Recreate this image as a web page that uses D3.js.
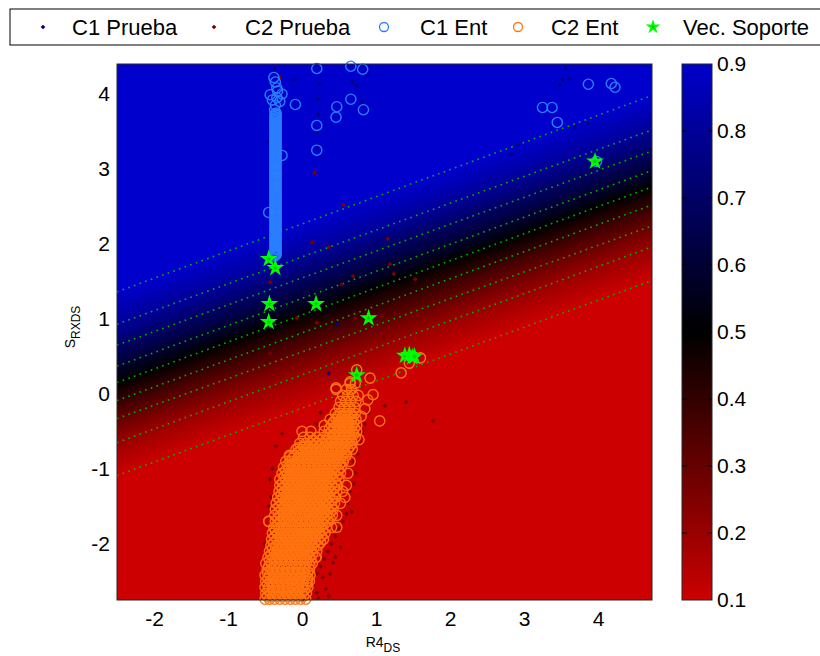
<!DOCTYPE html>
<html lang="en">
<head>
<meta charset="UTF-8">
<title>SVM</title>
<script src="https://cdn.jsdelivr.net/npm/d3@7/dist/d3.min.js"></script>
<style>
  body { margin: 0; background: #fff; }
  text { font-family: "Liberation Sans", Arial, sans-serif; }
</style>
</head>
<body>
<script>
// ---- data ----
const xTicks = [-2, -1, 0, 1, 2, 3, 4];
const yTicks = [-2, -1, 0, 1, 2, 3, 4];
const cTicks = [0.1, 0.2, 0.3, 0.4, 0.5, 0.6, 0.7, 0.8, 0.9];
const legendLabels = ["C1 Prueba", "C2 Prueba", "C1 Ent", "C2 Ent", "Vec. Soporte"];

// contour levels, and the y of each dotted line at the left (x=-2.5) and right (x=4.73) edge
const levels = [0.9, 0.8, 0.7, 0.6, 0.5, 0.4, 0.3, 0.2, 0.1];
const levelYLeft = [1.36, 0.93, 0.65, 0.37, 0.15, -0.09, -0.33, -0.65, -1.09];
const levelYRight = [3.98, 3.52, 3.24, 2.98, 2.76, 2.52, 2.24, 1.96, 1.51];

const c1Prueba = [[-0.37,4.33],[-0.11,4.19],[0.23,4.13],[0.22,3.93],[0.22,3.73],[0.21,3.49],[0.68,4.17],
  [0.74,4.12],[0.81,3.9],[0.88,4.28],[-0.44,3.36],[0.47,0.93],[0.36,0.27],[3.56,4.34],[3.52,4.19],
  [3.61,4.2],[3.48,4.12],[2.91,3.32],[2.83,3.2],[3.87,3.61],[3.69,3.56],[-0.36,3.6],[-0.34,3.0],
  [-0.38,2.6],[-0.35,2.2],[-0.33,3.75],[0.21,3.3]];

const c2Prueba = [[-0.3,4.22],[0.17,2.95],[0.56,2.52],[0.14,2.02],[0.36,1.96],[1.16,2.07],[1.19,1.73],
  [1.24,1.6],[0.69,1.57],[0.54,1.46],[-0.43,1.49],[-0.07,1.01],[0.2,0.95],[0.72,1.01],[1.08,1.04],
  [1.29,0.91],[-0.43,0.54],[0.98,0.77],[1.11,0.75],[1.53,1.53],[1.58,1.08],[0.59,0.68],[1.41,-0.11],
  [1.77,-0.36],[1.12,-0.16],[-0.27,-0.53],[-0.43,-1.14],[-0.42,-1.37],[0.67,-1.57],[0.45,-2.18],
  [0.1,-2.7],[0.05,-2.6],[0.12,-2.5],[0.2,-2.4],[0.25,-2.3],[0.3,-2.2],[0.35,-2.1],[0.4,-2.0],
  [0.2,-2.65],[0.15,-2.55],[0.28,-2.45],[0.45,-1.9],[0.5,-1.8],[0.55,-1.7],[0.6,-1.6],[0.62,-1.45],
  [0.65,-1.3],[0.7,-1.2],[0.72,-1.05],[0.7,-0.9],[0.75,-0.8],[0.8,-0.65],[0.82,-0.5],[0.85,-0.4],
  [0.9,-0.25],[0.95,-0.1],[0.75,0.1],[0.6,0.2],[0.5,0.0],[0.35,-0.3],[0.2,-0.4],[-0.35,-0.7],
  [-0.4,-1.0],[-0.45,-1.5],[-0.5,-2.0],[0.0,-2.75],[0.32,-2.6],[0.38,-2.4],[0.42,-2.25],[0.52,-2.05],
  [0.25,-0.25],[0.3,-0.45],[0.22,-2.72],[0.36,-2.7]];

const c1Ent = [[0.2,4.34],[0.66,4.37],[0.82,4.33],[-0.09,3.86],[0.2,3.58],[0.2,3.25],[0.47,3.83],
  [0.46,3.69],[0.66,3.93],[0.83,3.79],[-0.27,3.18],[-0.45,2.42],[3.87,4.13],[4.18,4.14],[4.23,4.09],
  [3.25,3.82],[3.38,3.82],[3.45,3.62],[3.98,3.1],[-0.43,3.99],[-0.27,4.0],[-0.36,4.16],[-0.34,4.08],
  [-0.36,3.85],[-0.3,3.9],[-0.4,3.92],[-0.38,4.22],[-0.33,4.04],[-0.37,3.79],[-0.34,3.95]];

// the dense vertical stack of C1 training points: [x, [y, ...]]
const c1EntColumns = [
  [-0.365, [1.84,1.87,1.90,1.93,1.96,1.99,2.02,2.05,2.08,2.11,2.14,2.17,2.20,2.23,2.26,2.29,2.32,
    2.35,2.38,2.41,2.44,2.47,2.50,2.53,2.56,2.59,2.62,2.65,2.68,2.71,2.74,2.77,2.80,2.83,2.86,2.89,
    2.92,2.95,2.98,3.01,3.04,3.07,3.10,3.13,3.16,3.19,3.22,3.25,3.28,3.31,3.34,3.37,3.40,3.43,3.46,
    3.49,3.52,3.55,3.58,3.61,3.64,3.67,3.70,3.73]],
  [-0.35, [1.86,1.885,1.92,1.945,1.975,2.0,2.035,2.065,2.095,2.12,2.155,2.185,2.21,2.245,2.275,2.30,
    2.335,2.365,2.39,2.425,2.455,2.48,2.515,2.545,2.575,2.60,2.635,2.665,2.69,2.725,2.755,2.785,2.81,
    2.845,2.875,2.90,2.935,2.965,2.995,3.02,3.055,3.085,3.11,3.145,3.175,3.205,3.23,3.265,3.295,3.32,
    3.355,3.385,3.415,3.44,3.475,3.505,3.53,3.565,3.595,3.625,3.65,3.685,3.715,3.745]]
];

// orange training cloud, row by row: [y, [x, ...]]
const c2EntRows = [
  [-2.74, [-0.50,-0.44,-0.37,-0.30,-0.23,-0.16,-0.09,-0.02,0.05]],
  [-2.70, [-0.47,-0.40,-0.33,-0.26,-0.19,-0.12,-0.05,0.02]],
  [-2.66, [-0.49,-0.42,-0.35,-0.28,-0.21,-0.14,-0.07,0.0,0.06]],
  [-2.62, [-0.46,-0.39,-0.32,-0.25,-0.18,-0.11,-0.04,0.03]],
  [-2.58, [-0.50,-0.45,-0.39,-0.32,-0.25,-0.19,-0.12,-0.05,0.02,0.08]],
  [-2.54, [-0.47,-0.41,-0.34,-0.27,-0.20,-0.13,-0.06,0.01,0.07]],
  [-2.50, [-0.49,-0.42,-0.35,-0.28,-0.21,-0.14,-0.07,0.0,0.07,0.1]],
  [-2.46, [-0.46,-0.39,-0.32,-0.25,-0.18,-0.11,-0.04,0.03,0.08]],
  [-2.42, [-0.50,-0.44,-0.37,-0.30,-0.23,-0.16,-0.09,-0.02,0.05,0.11]],
  [-2.38, [-0.47,-0.40,-0.33,-0.26,-0.19,-0.12,-0.05,0.02,0.08]],
  [-2.34, [-0.47,-0.41,-0.33,-0.26,-0.19,-0.12,-0.05,0.03,0.1]],
  [-2.30, [-0.45,-0.38,-0.31,-0.24,-0.17,-0.10,-0.03,0.04,0.11]],
  [-2.26, [-0.49,-0.42,-0.36,-0.29,-0.22,-0.15,-0.08,-0.01,0.06,0.14]],
  [-2.22, [-0.44,-0.37,-0.30,-0.23,-0.16,-0.09,-0.02,0.05,0.12]],
  [-2.18, [-0.46,-0.39,-0.32,-0.25,-0.18,-0.11,-0.04,0.03,0.10,0.19]],
  [-2.14, [-0.42,-0.35,-0.28,-0.21,-0.14,-0.07,0.0,0.07,0.14]],
  [-2.10, [-0.44,-0.37,-0.30,-0.23,-0.16,-0.09,-0.02,0.05,0.12,0.2]],
  [-2.06, [-0.40,-0.33,-0.26,-0.19,-0.12,-0.05,0.02,0.09,0.16]],
  [-2.02, [-0.42,-0.35,-0.28,-0.21,-0.14,-0.07,0.0,0.07,0.14,0.22]],
  [-1.98, [-0.38,-0.31,-0.24,-0.17,-0.10,-0.03,0.04,0.11,0.18,0.25]],
  [-1.94, [-0.41,-0.34,-0.27,-0.20,-0.13,-0.06,0.01,0.08,0.15,0.22,0.29]],
  [-1.90, [-0.37,-0.30,-0.23,-0.16,-0.09,-0.02,0.05,0.12,0.19,0.26]],
  [-1.86, [-0.40,-0.33,-0.26,-0.19,-0.12,-0.05,0.02,0.09,0.16,0.23,0.31]],
  [-1.82, [-0.36,-0.29,-0.22,-0.15,-0.08,-0.01,0.06,0.13,0.20,0.28]],
  [-1.78, [-0.38,-0.31,-0.24,-0.17,-0.10,-0.03,0.04,0.11,0.18,0.25,0.33,0.40]],
  [-1.74, [-0.33,-0.26,-0.19,-0.12,-0.05,0.02,0.09,0.16,0.23,0.30]],
  [-1.70, [-0.45,-0.36,-0.29,-0.22,-0.15,-0.08,-0.01,0.06,0.13,0.20,0.27,0.35]],
  [-1.66, [-0.33,-0.26,-0.19,-0.12,-0.05,0.02,0.09,0.16,0.23,0.30,0.38]],
  [-1.62, [-0.37,-0.30,-0.23,-0.16,-0.09,-0.02,0.05,0.12,0.19,0.26,0.33,0.41,0.47]],
  [-1.58, [-0.32,-0.25,-0.18,-0.11,-0.04,0.03,0.10,0.17,0.24,0.31,0.38]],
  [-1.54, [-0.36,-0.28,-0.21,-0.14,-0.07,0.0,0.07,0.14,0.21,0.28,0.35,0.42]],
  [-1.50, [-0.31,-0.24,-0.17,-0.10,-0.03,0.04,0.11,0.18,0.25,0.32,0.40]],
  [-1.46, [-0.35,-0.27,-0.20,-0.13,-0.06,0.01,0.08,0.15,0.22,0.29,0.36,0.44,0.52]],
  [-1.42, [-0.30,-0.23,-0.16,-0.09,-0.02,0.05,0.12,0.19,0.26,0.33,0.41]],
  [-1.38, [-0.33,-0.26,-0.19,-0.12,-0.05,0.02,0.09,0.16,0.23,0.30,0.37,0.45,0.58]],
  [-1.34, [-0.28,-0.21,-0.14,-0.07,0.0,0.07,0.14,0.21,0.28,0.35,0.43]],
  [-1.30, [-0.31,-0.24,-0.17,-0.10,-0.03,0.04,0.11,0.18,0.25,0.32,0.39,0.47,0.55]],
  [-1.26, [-0.27,-0.20,-0.13,-0.06,0.01,0.08,0.15,0.22,0.29,0.36,0.44]],
  [-1.22, [-0.30,-0.23,-0.16,-0.09,-0.02,0.05,0.12,0.19,0.26,0.33,0.40,0.48,0.6]],
  [-1.18, [-0.26,-0.19,-0.12,-0.05,0.02,0.09,0.16,0.23,0.30,0.37,0.45]],
  [-1.14, [-0.30,-0.22,-0.15,-0.08,-0.01,0.06,0.13,0.20,0.27,0.34,0.41,0.50]],
  [-1.10, [-0.24,-0.17,-0.10,-0.03,0.04,0.11,0.18,0.25,0.32,0.39,0.47]],
  [-1.06, [-0.27,-0.20,-0.13,-0.06,0.01,0.08,0.15,0.22,0.29,0.36,0.43,0.52,0.62]],
  [-1.02, [-0.22,-0.15,-0.08,-0.01,0.06,0.13,0.20,0.27,0.34,0.41,0.49]],
  [-0.98, [-0.25,-0.18,-0.11,-0.04,0.03,0.10,0.17,0.24,0.31,0.38,0.45,0.53]],
  [-0.94, [-0.19,-0.12,-0.05,0.02,0.09,0.16,0.23,0.30,0.37,0.44,0.51]],
  [-0.90, [-0.22,-0.15,-0.08,-0.01,0.06,0.13,0.20,0.27,0.34,0.41,0.48,0.56,0.65]],
  [-0.86, [-0.13,-0.06,0.01,0.08,0.15,0.22,0.29,0.36,0.43,0.50,0.57]],
  [-0.82, [-0.17,-0.10,-0.03,0.04,0.11,0.18,0.25,0.32,0.39,0.46,0.53,0.60]],
  [-0.78, [-0.05,0.02,0.09,0.16,0.23,0.30,0.37,0.44,0.51,0.58]],
  [-0.74, [-0.08,-0.01,0.06,0.13,0.20,0.27,0.34,0.41,0.48,0.55,0.62,0.68]],
  [-0.70, [0.02,0.09,0.16,0.23,0.30,0.37,0.44,0.51,0.58,0.65]],
  [-0.66, [-0.03,0.05,0.12,0.19,0.26,0.33,0.40,0.47,0.54,0.61,0.68]],
  [-0.62, [0.15,0.24,0.32,0.39,0.46,0.53,0.60,0.67]],
  [-0.58, [0.02,0.11,0.20,0.29,0.36,0.43,0.50,0.57,0.64,0.72]],
  [-0.54, [0.35,0.43,0.50,0.57,0.64,0.70]],
  [-0.50, [0.0,0.12,0.30,0.40,0.47,0.54,0.61,0.68,0.74]],
  [-0.46, [0.37,0.44,0.51,0.58,0.65,0.71]],
  [-0.42, [0.30,0.40,0.47,0.54,0.61,0.68,0.74]],
  [-0.38, [0.42,0.49,0.56,0.63,0.70]],
  [-0.34, [0.38,0.46,0.53,0.60,0.67,0.73]],
  [-0.30, [0.48,0.55,0.62,0.69]],
  [-0.26, [0.45,0.52,0.59,0.66,0.72]],
  [-0.18, [0.50,0.57,0.64,0.71]],
  [-0.10, [0.52,0.59,0.66,0.73]],
  [-0.02, [0.55,0.62,0.69,0.76]],
  [0.06, [0.46,0.60,0.67]],
  [0.14, [0.65,0.72]]
];
const c2EntExtra = [[0.74,0.32],[0.92,0.21],[0.96,-0.01],[0.89,-0.08],[1.05,-0.36],[1.34,0.28],
  [1.45,0.41],[1.6,0.48],[0.77,-0.61],[-0.45,-1.7],[0.47,-1.78],[0.19,-2.18],[-0.05,-0.72],
  [-0.17,-0.84],[0.8,-0.3],[0.85,-0.2],[0.65,0.16],[0.46,0.08]];

const supportVectors = [[-0.45,1.8],[-0.36,1.68],[-0.44,1.2],[0.19,1.2],[-0.45,0.96],[0.9,1.01],
  [0.74,0.25],[1.39,0.51],[1.49,0.49],[1.45,0.52],[1.52,0.5],[3.96,3.1]];

// ---- layout ----
const W = 820, H = 656;
const x = d3.scaleLinear().domain([-2.5, 4.73]).range([117, 652]);
const y = d3.scaleLinear().domain([-2.75, 4.4]).range([600, 64]);
const color = d3.scaleLinear().domain([0.1, 0.5, 0.9]).range(["#cc0000", "#000000", "#0000cc"]).clamp(true);

const svg = d3.select("body").append("svg").attr("width", W).attr("height", H);
const defs = svg.append("defs");

defs.append("clipPath").attr("id", "plotclip")
  .append("rect").attr("x", x(-2.5)).attr("y", y(4.4))
  .attr("width", x(4.73) - x(-2.5)).attr("height", y(-2.75) - y(4.4));

// background: gradient across the contour lines
const lines = levels.map((l, i) => ({
  level: l,
  p0: [x(-2.5), y(levelYLeft[i])],
  p1: [x(4.73), y(levelYRight[i])]
}));
const mid = lines[4];
let dx = mid.p1[0] - mid.p0[0], dy = mid.p1[1] - mid.p0[1];
const len = Math.hypot(dx, dy);
dx /= len; dy /= len;
const n = [dy, -dx]; // normal pointing up-left (towards higher levels)
const centre = l => [(l.p0[0] + l.p1[0]) / 2, (l.p0[1] + l.p1[1]) / 2];
const S = centre(lines[lines.length - 1]);
const proj = l => { const c = centre(l); return (c[0] - S[0]) * n[0] + (c[1] - S[1]) * n[1]; };
const tMax = proj(lines[0]);
const grad = defs.append("linearGradient").attr("id", "bg")
  .attr("gradientUnits", "userSpaceOnUse")
  .attr("x1", S[0]).attr("y1", S[1])
  .attr("x2", S[0] + n[0] * tMax).attr("y2", S[1] + n[1] * tMax);
lines.slice().reverse().forEach(l => {
  grad.append("stop").attr("offset", proj(l) / tMax).attr("stop-color", color(l.level));
});

svg.append("rect")
  .attr("x", x(-2.5)).attr("y", y(4.4))
  .attr("width", x(4.73) - x(-2.5)).attr("height", y(-2.75) - y(4.4))
  .attr("fill", "url(#bg)");

// dotted contour lines
const lineGen = d3.line();
svg.append("g").attr("clip-path", "url(#plotclip)")
  .selectAll("path").data(lines).enter().append("path")
  .attr("d", d => lineGen([d.p0, d.p1]))
  .attr("fill", "none")
  .attr("stroke", "#00b400")
  .attr("stroke-width", 1.6)
  .attr("stroke-dasharray", "1.6,4.4");

// scatter
const dot = d3.symbol().type(d3.symbolDiamond2).size(14);
const star = d3.symbol().type(d3.symbolStar).size(42);

const drawDots = (data, fill) => svg.append("g").selectAll("path").data(data).enter().append("path")
  .attr("d", dot).attr("transform", d => `translate(${x(d[0])},${y(d[1])})`).attr("fill", fill);

const drawRings = (data, stroke) => svg.append("g").selectAll("circle").data(data).enter().append("circle")
  .attr("cx", d => x(d[0])).attr("cy", d => y(d[1])).attr("r", 5.1)
  .attr("fill", "none").attr("stroke", stroke).attr("stroke-width", 1.4);

drawDots(c1Prueba, "#00007a");
drawDots(c2Prueba, "#7a0000");
const c1All = c1EntColumns.flatMap(c => c[1].map(v => [c[0], v])).concat(c1Ent);
drawRings(c1All, "#2a7fff");
const c2Ent = c2EntRows.flatMap(r => r[1].map(v => [v, r[0]])).concat(c2EntExtra);
drawRings(c2Ent, "#ff7410");

svg.append("g").selectAll("path").data(supportVectors).enter().append("path")
  .attr("d", star).attr("transform", d => `translate(${x(d[0])},${y(d[1])})`)
  .attr("fill", "#00c800").attr("stroke", "#00ff00").attr("stroke-width", 2);

// frame
svg.append("rect")
  .attr("x", x(-2.5)).attr("y", y(4.4))
  .attr("width", x(4.73) - x(-2.5)).attr("height", y(-2.75) - y(4.4))
  .attr("fill", "none").attr("stroke", "#262626").attr("stroke-width", 1);

// axes
const xAxis = svg.append("g").attr("transform", `translate(0,${y(-2.75)})`)
  .call(d3.axisBottom(x).tickValues(xTicks).tickSize(0).tickPadding(11).tickFormat(d => String(d)));
const yAxis = svg.append("g").attr("transform", `translate(${x(-2.5)},0)`)
  .call(d3.axisLeft(y).tickValues(yTicks).tickSize(0).tickPadding(7).tickFormat(d => String(d)));
[xAxis, yAxis].forEach(g => {
  g.select(".domain").remove();
  g.selectAll("text").attr("font-size", 21).attr("fill", "#000")
    .attr("font-family", "'Liberation Sans', Arial, sans-serif");
});

// axis labels
const xl = svg.append("text").attr("x", 383).attr("y", 647).attr("text-anchor", "middle").attr("font-size", 14);
xl.append("tspan").text("R4");
xl.append("tspan").attr("font-size", 12).attr("dy", 5).text("DS");

const yl = svg.append("text").attr("transform", "translate(75,327) rotate(-90)")
  .attr("text-anchor", "middle").attr("font-size", 14);
yl.append("tspan").text("S");
yl.append("tspan").attr("font-size", 12).attr("dy", 5).text("RXDS");

// colorbar
const cb = { x0: 682, x1: 712 };
const cy = d3.scaleLinear().domain([0.1, 0.9]).range([600, 64]);
const cgrad = defs.append("linearGradient").attr("id", "cbar")
  .attr("x1", 0).attr("y1", 1).attr("x2", 0).attr("y2", 0);
cTicks.forEach(v => cgrad.append("stop").attr("offset", (v - 0.1) / 0.8).attr("stop-color", color(v)));
svg.append("rect").attr("x", cb.x0).attr("y", cy(0.9))
  .attr("width", cb.x1 - cb.x0).attr("height", cy(0.1) - cy(0.9))
  .attr("fill", "url(#cbar)").attr("stroke", "#262626").attr("stroke-width", 1);
const inner = cTicks.slice(1, -1);
svg.append("g").selectAll("line").data(inner.flatMap(v => [[cb.x0, v, 1], [cb.x1, v, -1]])).enter().append("line")
  .attr("x1", d => d[0]).attr("x2", d => d[0] + d[2] * 5)
  .attr("y1", d => cy(d[1])).attr("y2", d => cy(d[1]))
  .attr("stroke", "#000").attr("stroke-width", 1);
const cAxis = svg.append("g").attr("transform", `translate(${cb.x1},0)`)
  .call(d3.axisRight(cy).tickValues(cTicks).tickSize(0).tickPadding(5).tickFormat(d3.format(".1f")));
cAxis.select(".domain").remove();
cAxis.selectAll("text").attr("font-size", 21).attr("fill", "#000")
  .attr("font-family", "'Liberation Sans', Arial, sans-serif");

// legend
const legend = svg.append("g");
legend.append("rect").attr("x", 10).attr("y", 9).attr("width", 820).attr("height", 36)
  .attr("fill", "#fff").attr("stroke", "#000").attr("stroke-width", 1);
const legMarkX = [43, 214, 384, 518, 653];
const legTextX = [72, 245, 420, 551, 683];
const ly = 27;
legend.append("path").attr("d", dot).attr("transform", `translate(${legMarkX[0]},${ly})`).attr("fill", "#00007a");
legend.append("path").attr("d", dot).attr("transform", `translate(${legMarkX[1]},${ly})`).attr("fill", "#7a0000");
legend.append("circle").attr("cx", legMarkX[2]).attr("cy", ly).attr("r", 4.5).attr("fill", "none").attr("stroke", "#2a7fff").attr("stroke-width", 1.3);
legend.append("circle").attr("cx", legMarkX[3]).attr("cy", ly).attr("r", 4.5).attr("fill", "none").attr("stroke", "#ff7410").attr("stroke-width", 1.3);
legend.append("path").attr("d", d3.symbol().type(d3.symbolStar).size(30))
  .attr("transform", `translate(${legMarkX[4]},${ly})`).attr("fill", "#00c800").attr("stroke", "#00ff00").attr("stroke-width", 1.6);
legend.selectAll("text.lab").data(legendLabels).enter().append("text").attr("class", "lab")
  .attr("x", (d, i) => legTextX[i]).attr("y", 35).attr("font-size", 22).attr("fill", "#000").text(d => d);
</script>
</body>
</html>
